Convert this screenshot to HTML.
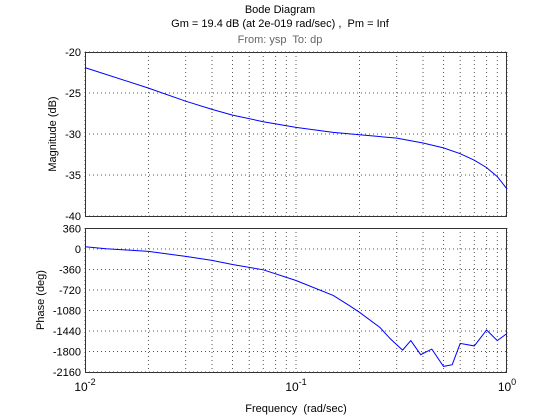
<!DOCTYPE html>
<html><head><meta charset="utf-8"><style>
body{margin:0;background:#fff}
svg{display:block;font-family:"Liberation Sans",Arial,sans-serif}
text{white-space:pre}
</style></head><body>
<svg id="c" width="560" height="420"></svg>
<script>
const magFreq=[0.01,0.02,0.03,0.04,0.05,0.07,0.1,0.15,0.2,0.3,0.4,0.5,0.6,0.7,0.8,0.9,1];
const magDb=[-21.9,-24.4,-26.0,-27.0,-27.7,-28.5,-29.2,-29.8,-30.1,-30.5,-31.1,-31.7,-32.4,-33.2,-34.1,-35.2,-36.7];
const phFreq=[0.01,0.0126,0.02,0.03,0.04,0.05,0.07,0.1,0.15,0.18,0.2,0.25,0.28,0.32,0.35,0.39,0.44,0.5,0.55,0.6,0.7,0.8,0.9,1];
const phDeg=[40,5,-43,-130,-200,-273,-366,-553,-814,-1000,-1112,-1379,-1578,-1776,-1609,-1857,-1758,-2062,-2031,-1658,-1702,-1422,-1609,-1484];
const magTicks=[-20,-25,-30,-35,-40];
const phTicks=[360,0,-360,-720,-1080,-1440,-1800,-2160];
const xTickExp=[-2,-1,0];

const NS='http://www.w3.org/2000/svg';
const svg=document.getElementById('c');
const X0=85,X1=507;
const xs=f=>X0+(Math.log10(f)+2)/2*(X1-X0);
const magY=v=>52+(-20-v)/20*(216-52);
const phY=v=>228.5+(360-v)/2520*(372-228.5);
function el(t,a,txt){const e=document.createElementNS(NS,t);for(const k in a)e.setAttribute(k,a[k]);if(txt!==undefined)e.textContent=txt;svg.appendChild(e);return e;}
function txt(x,y,s,anchor,fill,name){const e=el('text',{x:x,y:y,'font-size':11,'text-anchor':anchor||'middle',fill:fill||'#000'},s);

return e;}

txt(280,13,'Bode Diagram','middle','#000','chart-title');
txt(280,27,'Gm = 19.4 dB (at 2e-019 rad/sec) ,  Pm = Inf','middle','#000','margin-subtitle');
txt(280,43,'From: ysp  To: dp','middle','#666','io-label');

function panel(top,bot,ticks,ys,name){
  const r=el('rect',{x:X0,y:top,width:X1-X0,height:bot-top,fill:'#fff',stroke:'none'});
  
  
  for(let d=-2;d<0;d++)for(let m=2;m<10;m++){
    const x=xs(m*Math.pow(10,d));
    const g=el('line',{x1:x,x2:x,y1:top,y2:bot,stroke:'#555','stroke-width':1,'stroke-dasharray':'1,3'});
    
    
  }
  [0.01,0.1,1].forEach(f=>{const x=xs(f);
    const g=el('line',{x1:x,x2:x,y1:top,y2:bot,stroke:'#555','stroke-width':1,'stroke-dasharray':'1,3'});
    
    });
  ticks.forEach(t=>{const y=ys(t);
    const g=el('line',{x1:X0,x2:X1,y1:y,y2:y,stroke:'#555','stroke-width':1,'stroke-dasharray':'1,3'});
    
    
    txt(X0-4,y+4,String(t),'end','#000',name+'-tick-label');});
  const b=el('rect',{x:X0+0.5,y:top+0.5,width:X1-X0-1,height:bot-top,fill:'none',stroke:'#333','stroke-width':1});
  
  
}
panel(52,216,magTicks,magY,'magnitude');
panel(228,372,phTicks,phY,'phase');

function line(fr,vals,ys,name){
  const p=el('polyline',{points:fr.map((f,i)=>xs(f).toFixed(1)+','+ys(vals[i]).toFixed(1)).join(' '),fill:'none',stroke:'#0000ff','stroke-width':1});
  
  
}
line(magFreq,magDb,magY,'magnitude-line');
line(phFreq,phDeg,phY,'phase-line');

xTickExp.forEach(e=>{const x=xs(Math.pow(10,e));
  const t=el('text',{x:x,y:391,'font-size':12,'text-anchor':'middle',fill:'#000'});
  
  
  const a=document.createElementNS(NS,'tspan');a.textContent='10';t.appendChild(a);
  const s=document.createElementNS(NS,'tspan');s.setAttribute('dy','-6');s.setAttribute('font-size','9');s.textContent=String(e);t.appendChild(s);
});
txt(296,412,'Frequency  (rad/sec)','middle','#000','x-axis-title');
const m=txt(0,0,'Magnitude (dB)','middle','#000','magnitude-axis-title');m.setAttribute('transform','translate(56,134) rotate(-90)');
const p=txt(0,0,'Phase (deg)','middle','#000','phase-axis-title');p.setAttribute('transform','translate(44,300) rotate(-90)');
</script>
</body></html>
